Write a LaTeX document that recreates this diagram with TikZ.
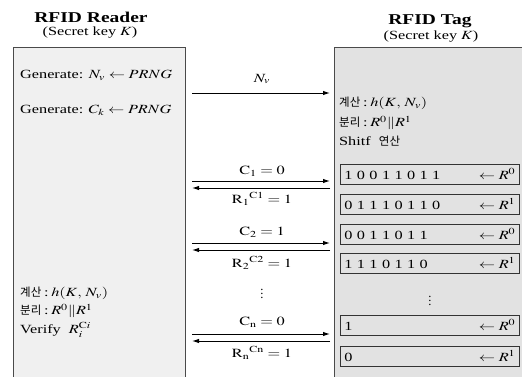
\documentclass[tikz,border=0pt]{standalone}
\usepackage{graphicx}
\usepackage{mathptmx}
\usepackage{fontspec}
\setmainfont{Liberation Serif}
\newfontfamily\krfont{Noto Sans CJK KR}
\usetikzlibrary{arrows.meta}
\definecolor{readergray}{HTML}{F0F0F0}
\definecolor{taggray}{HTML}{E2E2E2}
\definecolor{edgegray}{HTML}{4A4A4A}
\newcommand\wide[1]{\scalebox{1.3}[1]{#1}}
\newcommand\kr[1]{{\krfont\fontsize{11.5}{12}\selectfont #1}}
\protected\def\bitrow#1#2{\wide{\spaceskip=3.4pt\relax #1}\hfill\wide{$\leftarrow R^{#2}$}}
\tikzset{
    party/.style={draw=edgegray, line width=0.8pt, anchor=north west, minimum width=#1, minimum height=340pt},
    title/.style={font=\fontsize{15}{16}\selectfont\bfseries},
    subtitle/.style={font=\fontsize{12.5}{13}\selectfont},
    txt/.style={anchor=west, inner sep=0pt, font=\fontsize{12.5}{13}\selectfont},
    msglabel/.style={inner sep=0pt, font=\fontsize{12.5}{13}\selectfont},
    msg/.style={line width=1pt, -{Latex[length=7pt,width=4.5pt]}},
    bitbox/.style={draw=black!80, line width=0.8pt, fill=taggray, anchor=west, minimum height=20pt,
        text width=171pt, inner xsep=4pt, inner ysep=0pt, font=\fontsize{12.5}{13}\selectfont}
}
\begin{document}
\begin{tikzpicture}[x=1pt, y=-1pt]
    \useasboundingbox (0,0) rectangle (522,376);
    \clip (0,0) rectangle (522,376);

    % the two parties
    \node[title] (readertitle) at (91,17) {\wide{RFID Reader}};
    \node[subtitle] (readerkey) at (90,33) {\wide{(Secret key $K$)}};
    \node[title] (tagtitle) at (430,21) {\wide{RFID Tag}};
    \node[subtitle] (tagkey) at (431,37) {\wide{(Secret key $K$)}};
    \node[party=172pt, fill=readergray] (reader) at (13,47) {};
    \node[party=200pt, fill=taggray] (tag) at (334,47) {};

    % reader side
    \node[txt] (gennv) at (20,75) {\wide{Generate: $N_v \leftarrow PRNG$}};
    \node[txt] (genck) at (20,110) {\wide{Generate: $C_k \leftarrow PRNG$}};
    \node[txt] (rcalc) at (20,293) {\kr{계산}\wide{\,:\,$h(K,\, N_v)$}};
    \node[txt] (rsplit) at (20,311) {\kr{분리}\wide{\,:\,$R^0 \| R^1$}};
    \node[txt] (rverify) at (20,330) {\wide{Verify\enspace$R_i^{\mathrm{C}i}$}};

    % tag side
    \node[txt] (tcalc) at (339,103) {\kr{계산}\wide{\,:\,$h(K,\, N_v)$}};
    \node[txt] (tsplit) at (339,123) {\kr{분리}\wide{\,:\,$R^0 \| R^1$}};
    \node[txt] (tshift) at (339,141) {\wide{Shitf\enspace}\kr{연산}};

    \node[bitbox] (bit1) at (340,174) {\bitrow{1 0 0 1 1 0 1 1}{0}};
    \node[bitbox] (bit2) at (340,204) {\bitrow{0 1 1 1 0 1 1 0}{1}};
    \node[bitbox] (bit3) at (340,234) {\bitrow{0 0 1 1 0 1 1}{0}};
    \node[bitbox] (bit4) at (340,263) {\bitrow{1 1 1 0 1 1 0}{1}};
    \node[msglabel] (tagdots) at (430,298) {$\vdots$};
    \node[bitbox] (bit5) at (340,325) {\bitrow{1}{0}};
    \node[bitbox] (bit6) at (340,356) {\bitrow{0}{1}};

    % messages
    \coordinate (nvfrom) at (192,93);
    \coordinate (nvto) at (330,93);
    \draw[msg] (nvfrom) -- (nvto);
    \node[msglabel] (nvlabel) at (262,79) {\wide{$N_v$}};

    \coordinate (c1from) at (192,181);
    \coordinate (c1to) at (330,181);
    \coordinate (r1from) at (330,188);
    \coordinate (r1to) at (192,188);
    \draw[msg] (c1from) -- (c1to);
    \draw[msg] (r1from) -- (r1to);
    \node[msglabel] (c1label) at (262,171) {\wide{$\mathrm{C}_1 = 0$}};
    \node[msglabel] (r1label) at (262,199) {\wide{$\mathrm{R}_1{}^{\mathrm{C1}} = 1$}};

    \coordinate (c2from) at (192,243);
    \coordinate (c2to) at (330,243);
    \coordinate (r2from) at (330,250);
    \coordinate (r2to) at (192,250);
    \draw[msg] (c2from) -- (c2to);
    \draw[msg] (r2from) -- (r2to);
    \node[msglabel] (c2label) at (262,232) {\wide{$\mathrm{C}_2 = 1$}};
    \node[msglabel] (r2label) at (262,263) {\wide{$\mathrm{R}_2{}^{\mathrm{C2}} = 1$}};

    \node[msglabel] (msgdots) at (262,291) {$\vdots$};

    \coordinate (cnfrom) at (192,334);
    \coordinate (cnto) at (330,334);
    \coordinate (rnfrom) at (330,341);
    \coordinate (rnto) at (192,341);
    \draw[msg] (cnfrom) -- (cnto);
    \draw[msg] (rnfrom) -- (rnto);
    \node[msglabel] (cnlabel) at (262,322) {\wide{$\mathrm{C}_\mathrm{n} = 0$}};
    \node[msglabel] (rnlabel) at (262,353) {\wide{$\mathrm{R}_\mathrm{n}{}^{\mathrm{Cn}} = 1$}};
\end{tikzpicture}
\end{document}
